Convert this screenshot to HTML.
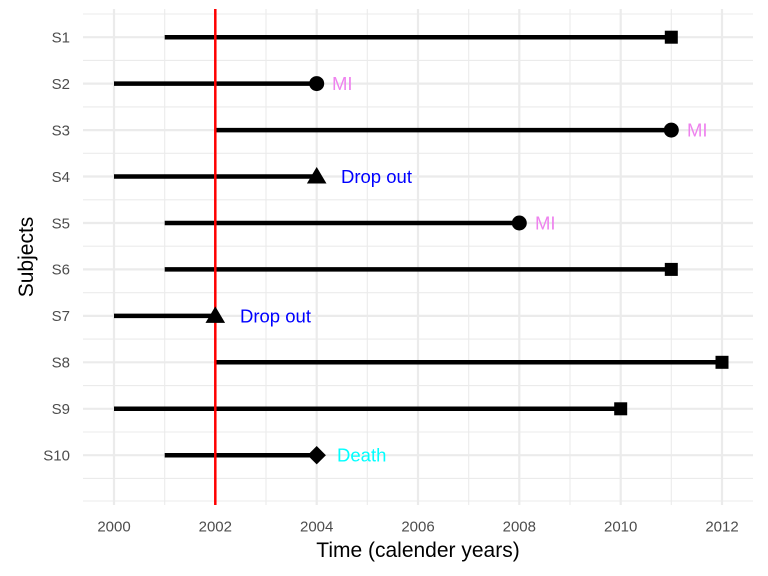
<!DOCTYPE html>
<html><head><style>body{margin:0;background:#fff}svg{display:block}</style></head><body>
<svg width="768" height="576" xmlns="http://www.w3.org/2000/svg" font-family="Liberation Sans, sans-serif">
<rect width="768" height="576" fill="#fff"/>
<g stroke="#ebebeb">
<g stroke-width="1.1">
<line x1="83" x2="753" y1="14" y2="14"/><line x1="83" x2="753" y1="60.4" y2="60.4"/><line x1="83" x2="753" y1="106.9" y2="106.9"/><line x1="83" x2="753" y1="153.3" y2="153.3"/><line x1="83" x2="753" y1="199.8" y2="199.8"/><line x1="83" x2="753" y1="246.2" y2="246.2"/><line x1="83" x2="753" y1="292.7" y2="292.7"/><line x1="83" x2="753" y1="339.1" y2="339.1"/><line x1="83" x2="753" y1="385.6" y2="385.6"/><line x1="83" x2="753" y1="432" y2="432"/><line x1="83" x2="753" y1="478.4" y2="478.4"/><line x1="83" x2="753" y1="501" y2="501"/>
<line x1="164.7" x2="164.7" y1="9" y2="505"/><line x1="266" x2="266" y1="9" y2="505"/><line x1="367.3" x2="367.3" y1="9" y2="505"/><line x1="468.7" x2="468.7" y1="9" y2="505"/><line x1="570" x2="570" y1="9" y2="505"/><line x1="671.3" x2="671.3" y1="9" y2="505"/>
</g>
<g stroke-width="2.2">
<line x1="83" x2="753" y1="37.2" y2="37.2"/><line x1="83" x2="753" y1="83.6" y2="83.6"/><line x1="83" x2="753" y1="130.1" y2="130.1"/><line x1="83" x2="753" y1="176.5" y2="176.5"/><line x1="83" x2="753" y1="223" y2="223"/><line x1="83" x2="753" y1="269.4" y2="269.4"/><line x1="83" x2="753" y1="315.9" y2="315.9"/><line x1="83" x2="753" y1="362.3" y2="362.3"/><line x1="83" x2="753" y1="408.8" y2="408.8"/><line x1="83" x2="753" y1="455.2" y2="455.2"/>
<line x1="114" x2="114" y1="9" y2="505"/><line x1="215.3" x2="215.3" y1="9" y2="505"/><line x1="316.7" x2="316.7" y1="9" y2="505"/><line x1="418" x2="418" y1="9" y2="505"/><line x1="519.3" x2="519.3" y1="9" y2="505"/><line x1="620.7" x2="620.7" y1="9" y2="505"/><line x1="722" x2="722" y1="9" y2="505"/>
</g></g>
<g stroke="#000" stroke-width="4.5">
<line x1="164.7" x2="671.3" y1="37.2" y2="37.2"/>
<line x1="114" x2="316.7" y1="83.6" y2="83.6"/>
<line x1="215.3" x2="671.3" y1="130.1" y2="130.1"/>
<line x1="114" x2="316.7" y1="176.5" y2="176.5"/>
<line x1="164.7" x2="519.3" y1="223" y2="223"/>
<line x1="164.7" x2="671.3" y1="269.4" y2="269.4"/>
<line x1="114" x2="215.3" y1="315.9" y2="315.9"/>
<line x1="215.3" x2="722" y1="362.3" y2="362.3"/>
<line x1="114" x2="620.7" y1="408.8" y2="408.8"/>
<line x1="164.7" x2="316.7" y1="455.2" y2="455.2"/>
</g>
<line x1="215.3" x2="215.3" y1="9" y2="505" stroke="#ff0000" stroke-width="2.5"/>
<g fill="#000">
<rect x="664.8" y="30.7" width="13" height="13"/>
<circle cx="316.7" cy="83.6" r="7.5"/>
<circle cx="671.3" cy="130.1" r="7.5"/>
<polygon points="316.7,167 326.5,183.5 306.9,183.5"/>
<circle cx="519.3" cy="223" r="7.5"/>
<rect x="664.8" y="262.9" width="13" height="13"/>
<polygon points="215.3,306.4 225.1,322.9 205.5,322.9"/>
<rect x="715.5" y="355.8" width="13" height="13"/>
<rect x="614.2" y="402.3" width="13" height="13"/>
<polygon points="316.7,446 325.9,455.2 316.7,464.4 307.5,455.2"/>
</g>
<g font-size="18.5">
<text x="332" y="90" fill="#ee82ee">MI</text>
<text x="687" y="136.5" fill="#ee82ee">MI</text>
<text x="341" y="183" fill="#0000ff">Drop out</text>
<text x="535" y="229.5" fill="#ee82ee">MI</text>
<text x="240" y="322.5" fill="#0000ff">Drop out</text>
<text x="337" y="461.5" fill="#00ffff">Death</text>
</g>
<g font-size="15" fill="#4d4d4d" text-anchor="end">
<text x="70" y="42.5">S1</text><text x="70" y="88.9">S2</text><text x="70" y="135.4">S3</text><text x="70" y="181.8">S4</text><text x="70" y="228.3">S5</text><text x="70" y="274.7">S6</text><text x="70" y="321.2">S7</text><text x="70" y="367.6">S8</text><text x="70" y="414.1">S9</text><text x="70" y="460.5">S10</text>
</g>
<g font-size="15" fill="#4d4d4d" text-anchor="middle">
<text x="114" y="531.5">2000</text><text x="215.3" y="531.5">2002</text><text x="316.7" y="531.5">2004</text><text x="418" y="531.5">2006</text><text x="519.3" y="531.5">2008</text><text x="620.7" y="531.5">2010</text><text x="722" y="531.5">2012</text>
</g>
<text x="418" y="557" font-size="21" text-anchor="middle">Time (calender years)</text>
<text transform="translate(33,257) rotate(-90)" font-size="21" text-anchor="middle">Subjects</text>
</svg>
</body></html>
